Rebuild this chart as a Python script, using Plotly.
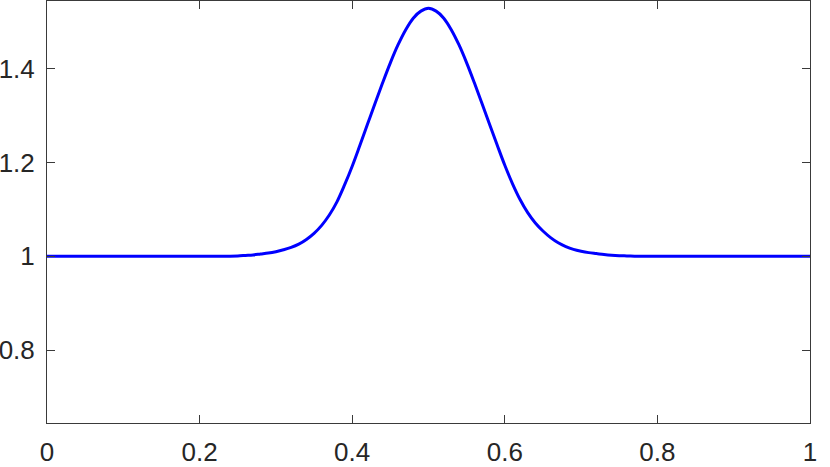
import plotly.graph_objects as go

x_vals = [0.00, 0.05, 0.10, 0.15,
          0.20, 0.21, 0.22, 0.23, 0.24, 0.25, 0.26, 0.27, 0.28, 0.29,
          0.30, 0.31, 0.32, 0.33, 0.34, 0.35, 0.36, 0.37, 0.38, 0.39,
          0.40, 0.41, 0.42, 0.43, 0.44, 0.45, 0.46, 0.47, 0.48, 0.49,
          0.50, 0.51, 0.52, 0.53, 0.54, 0.55, 0.56, 0.57, 0.58, 0.59,
          0.60, 0.61, 0.62, 0.63, 0.64, 0.65, 0.66, 0.67, 0.68, 0.69,
          0.70, 0.71, 0.72, 0.73, 0.74, 0.75, 0.76, 0.77, 0.78, 0.79,
          0.80, 0.85, 0.90, 0.95, 1.00]
y_vals = [1.000, 1.000, 1.000, 1.000,
          1.000, 1.000, 1.000, 1.0002, 1.0005, 1.001, 1.002, 1.003, 1.005, 1.007,
          1.010, 1.014, 1.019, 1.026, 1.036, 1.049, 1.066, 1.088, 1.116, 1.152,
          1.192, 1.236, 1.281, 1.326, 1.370, 1.412, 1.450, 1.482, 1.507, 1.522,
          1.528, 1.522, 1.507, 1.482, 1.450, 1.412, 1.370, 1.326, 1.281, 1.237,
          1.194, 1.155, 1.121, 1.093, 1.071, 1.054, 1.040, 1.029, 1.021, 1.015,
          1.011, 1.008, 1.006, 1.004, 1.0025, 1.0015, 1.001, 1.0005, 1.0002, 1.000,
          1.000, 1.000, 1.000, 1.000, 1.000]

x_ticks = [0, 0.2, 0.4, 0.6, 0.8, 1]
x_tick_text = ["0", "0.2", "0.4", "0.6", "0.8", "1"]
y_ticks = [0.8, 1.0, 1.2, 1.4]
y_tick_text = ["0.8", "1", "1.2", "1.4"]

fig = go.Figure()
fig.add_trace(go.Scatter(
    x=x_vals, y=y_vals, mode="lines",
    line=dict(color="#0000FF", width=3, shape="spline", smoothing=1.0),
    showlegend=False, hoverinfo="skip",
))

axis_common = dict(
    showline=True, mirror="ticks", linecolor="#3a3a3a", linewidth=1,
    ticks="inside", ticklen=8, tickwidth=1, tickcolor="#3a3a3a",
    showgrid=False, zeroline=False,
    tickfont=dict(family="Liberation Sans, Arial, sans-serif", size=26, color="#262626"),
)

fig.update_layout(
    width=830, height=467,
    margin=dict(l=47, r=20, t=1, b=44, autoexpand=False),
    paper_bgcolor="white", plot_bgcolor="white",
    xaxis=dict(range=[0, 1], tickvals=x_ticks, ticktext=x_tick_text,
               ticklabelstandoff=6, **axis_common),
    yaxis=dict(range=[0.6453, 1.5436], tickvals=y_ticks, ticktext=y_tick_text,
               ticklabelstandoff=6, **axis_common),
)

fig.write_html("out.html", config={"displayModeBar": False},
               post_script="document.body.style.margin='0';document.body.style.padding='0';")
